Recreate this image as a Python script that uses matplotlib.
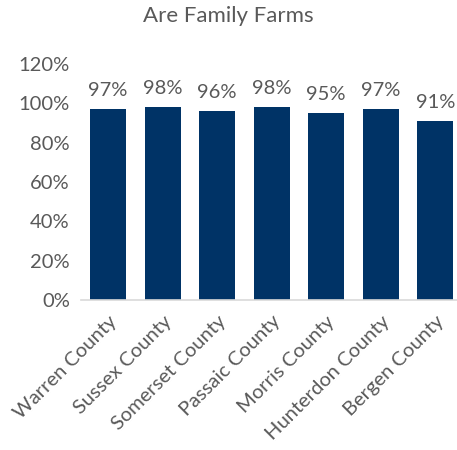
import matplotlib
matplotlib.use("Agg")
import matplotlib.pyplot as plt
from matplotlib.ticker import PercentFormatter

counties = ["Warren County", "Sussex County", "Somerset County", "Passaic County",
            "Morris County", "Hunterdon County", "Bergen County"]
family_pct = [97, 98, 96, 98, 95, 97, 91]

navy = "#003366"
gray = "#595959"

plt.rcParams["font.family"] = ["Lato", "DejaVu Sans"]

fig = plt.figure(figsize=(4.57, 4.5), dpi=100)
ax = fig.add_axes([0.177, 0.333, 0.835, 0.525])

x = range(len(counties))
bars = ax.bar(x, family_pct, width=0.66, color=navy)

# value labels above each bar
for b, v in zip(bars, family_pct):
    ax.annotate(f"{v}%", (b.get_x() + b.get_width() / 2, v),
                xytext=(0, 7), textcoords="offset points",
                ha="center", va="bottom", fontsize=14.5, color=gray)

ax.set_ylim(0, 120)
ax.set_xlim(-0.5, 6.5)
ax.set_yticks(range(0, 121, 20))
ax.yaxis.set_major_formatter(PercentFormatter(decimals=0))
ax.set_xticks(list(x))
ax.set_xticklabels(counties, rotation=45, ha="right", rotation_mode="anchor")

ax.tick_params(axis="both", length=0, labelsize=14.5, labelcolor=gray)
ax.tick_params(axis="x", pad=9)
ax.tick_params(axis="y", pad=8)
for side in ["top", "right", "left"]:
    ax.spines[side].set_visible(False)
ax.spines["bottom"].set_color("#d9d9d9")
ax.spines["bottom"].set_linewidth(1.2)

fig.text(0.5, 0.965, "Are Family Farms", ha="center", va="center",
         fontsize=16, color=gray)

fig.savefig("out.png", dpi=100)
